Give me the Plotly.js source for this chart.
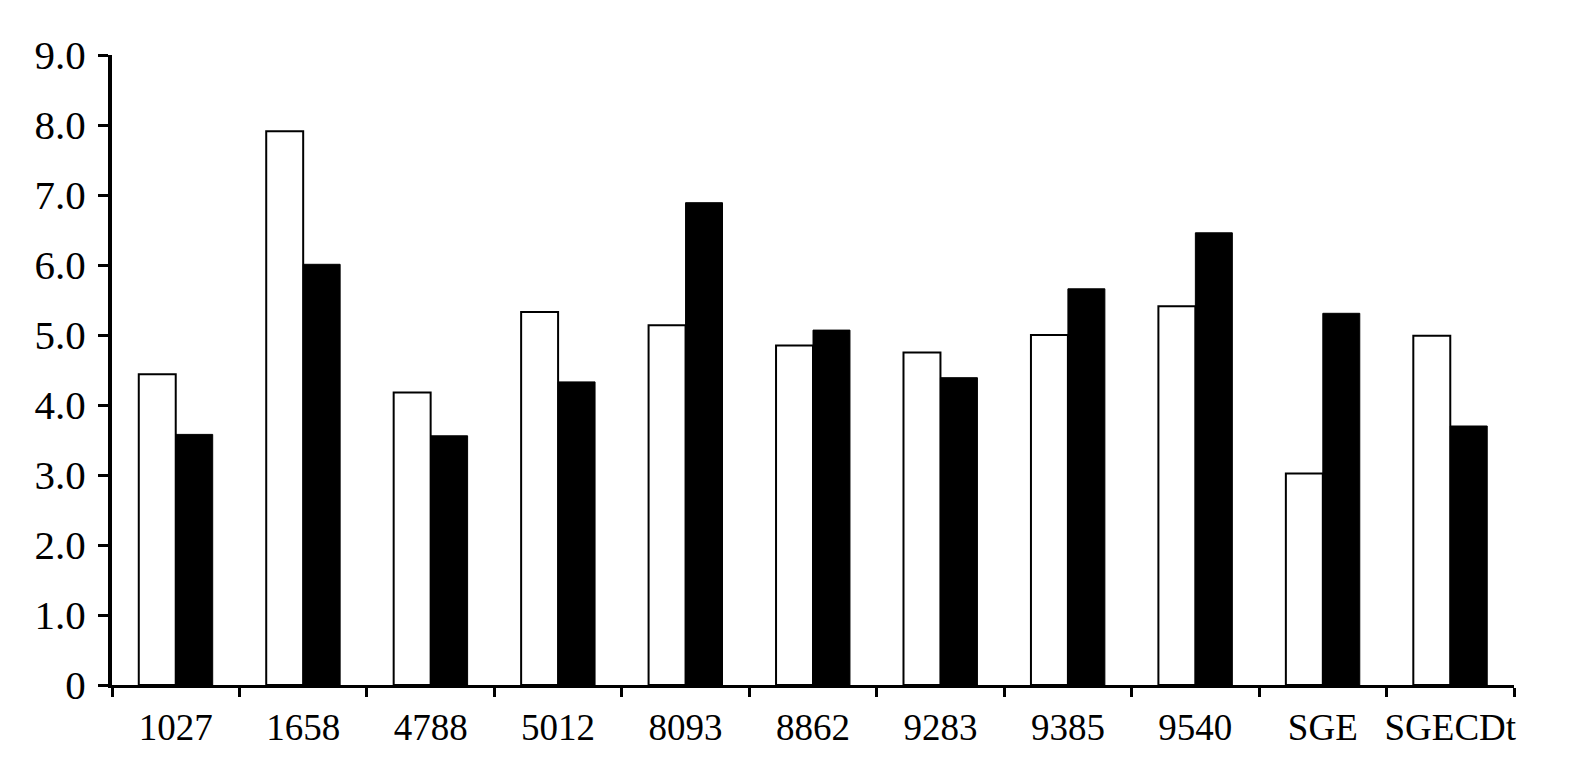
<!DOCTYPE html>
<html>
<head>
<meta charset="utf-8">
<script src="https://cdn.plot.ly/plotly-3.0.1.min.js"></script>
<style>html,body{margin:0;padding:0;background:#fff;}#chart{width:1593px;height:759px;}</style>
</head>
<body>
<div id="chart"></div>
<script>
var categories = ["1027","1658","4788","5012","8093","8862","9283","9385","9540","SGE","SGECDt"];
var seriesWhite = [4.44, 7.91, 4.18, 5.33, 5.14, 4.85, 4.75, 5.00, 5.41, 3.02, 4.99];
var seriesBlack = [3.58, 6.01, 3.56, 4.33, 6.89, 5.07, 4.39, 5.66, 6.46, 5.31, 3.70];
var yTickVals = [0,1,2,3,4,5,6,7,8,9];
var yTickText = ["0","1.0","2.0","3.0","4.0","5.0","6.0","7.0","8.0","9.0"];

var traces = [
  {type:"bar", x:categories, y:seriesWhite, name:"white",
   marker:{color:"#ffffff", line:{color:"#000000", width:2}}},
  {type:"bar", x:categories, y:seriesBlack, name:"black",
   marker:{color:"#000000", line:{color:"#000000", width:1}}}
];
var layout = {
  width:1593, height:759,
  margin:{l:112, r:79, t:55, b:74, pad:0},
  paper_bgcolor:"#ffffff", plot_bgcolor:"#ffffff",
  showlegend:false,
  barmode:"group", bargap:0.42, bargroupgap:0,
  font:{family:"Liberation Serif", color:"#000000", size:37},
  xaxis:{type:"category", range:[-0.5,10.5], showline:true, linecolor:"#000", linewidth:3,
         ticks:"outside", tickson:"boundaries", ticklen:9, tickwidth:3, tickcolor:"#000",
         tickangle:0, automargin:false, ticklabelstandoff:8,
         showgrid:false, zeroline:false, tickfont:{family:"Liberation Serif", size:37}, fixedrange:true},
  yaxis:{range:[0,9], showline:true, linecolor:"#000", linewidth:4,
         ticks:"outside", ticklen:10, tickwidth:3, tickcolor:"#000", automargin:false,
         ticklabelstandoff:4,
         tickvals:yTickVals, ticktext:yTickText, showgrid:false, zeroline:false,
         tickfont:{family:"Liberation Serif", size:41}, fixedrange:true}
};
Plotly.newPlot("chart", traces, layout, {displayModeBar:false, staticPlot:true});
</script>
</body>
</html>
